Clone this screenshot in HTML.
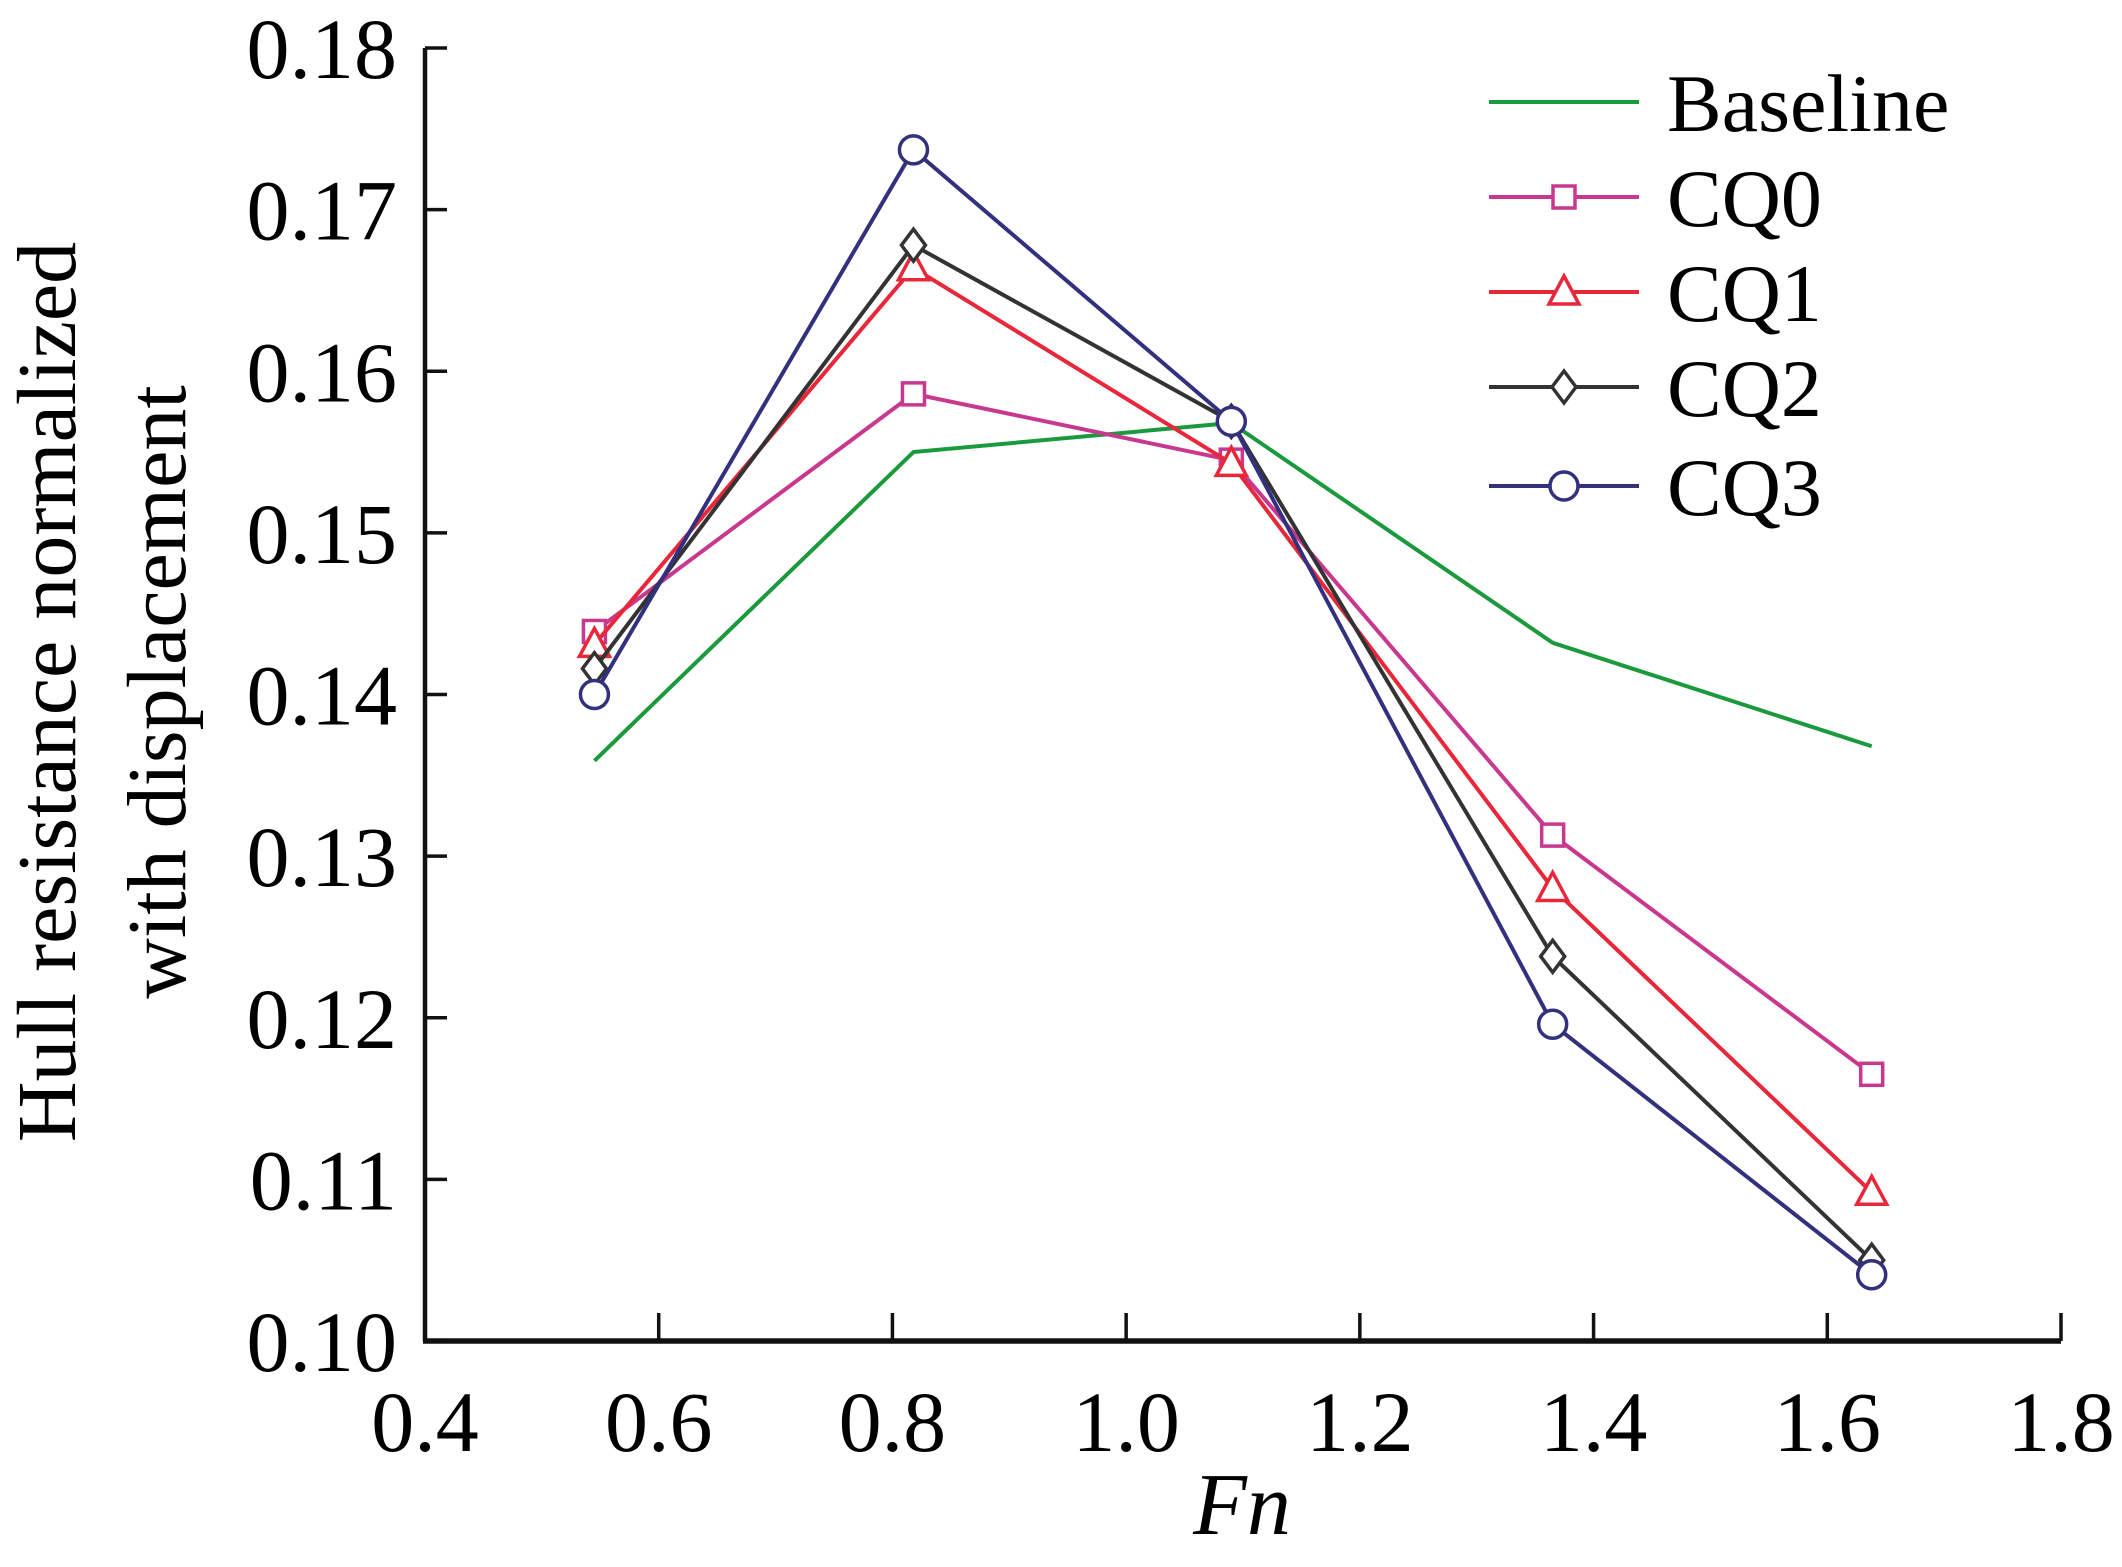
<!DOCTYPE html>
<html><head><meta charset="utf-8"><style>
html,body{margin:0;padding:0;background:#fff;}
svg{display:block;font-family:"Liberation Serif",serif;}
</style></head><body>
<svg id="chart" width="2122" height="1567" viewBox="0 0 2122 1567" xmlns="http://www.w3.org/2000/svg">
<g id="axes"></g>
<g id="series"></g>
<g id="legend"></g>
<text x="1242" y="1534" font-size="88" font-style="italic" text-anchor="middle">Fn</text>
<g transform="translate(0,692) rotate(-90)">
<text x="0" y="75" font-size="84" text-anchor="middle">Hull resistance normalized</text>
<text x="0" y="185" font-size="84" text-anchor="middle">with displacement</text>
</g>
</svg>
<script>
const xValues=[0.545,0.818,1.09,1.365,1.638];
const seriesNames=["Baseline","CQ0","CQ1","CQ2","CQ3"];
const baseline=[0.1359,0.1550,0.1568,0.1432,0.1368];
const cq0=[0.1439,0.1586,0.1545,0.1313,0.1165];
const cq1=[0.1431,0.1664,0.1543,0.1280,0.1092];
const cq2=[0.1416,0.1678,0.1569,0.1238,0.1050];
const cq3=[0.1400,0.1737,0.1569,0.1196,0.1041];
const xTicks=["0.4","0.6","0.8","1.0","1.2","1.4","1.6","1.8"];
const yTicks=["0.10","0.11","0.12","0.13","0.14","0.15","0.16","0.17","0.18"];

const NS="http://www.w3.org/2000/svg";
const X0=425,X1=2061,Y0=1341,Y1=48;
const xs=v=>X0+(v-0.4)/1.4*(X1-X0);
const ys=v=>Y0-(v-0.10)/0.08*(Y0-Y1);
function mk(tag,attrs,parent){const e=document.createElementNS(NS,tag);for(const k in attrs)e.setAttribute(k,attrs[k]);parent.appendChild(e);return e;}
const axes=document.getElementById('axes');
let l=mk('line',{x1:X0,y1:Y1,x2:X0,y2:Y0,stroke:'#111','stroke-width':4.5},axes);


l=mk('line',{x1:X0-2,y1:Y0,x2:X1,y2:Y0,stroke:'#111','stroke-width':5.5},axes);


xTicks.forEach(t=>{const x=xs(parseFloat(t));
 const tk=mk('line',{x1:x,y1:Y0,x2:x,y2:Y0-28,stroke:'#111','stroke-width':3.5},axes);
 
 
 const tx=mk('text',{x:x,y:Y0+110,'font-size':86,'text-anchor':'middle'},axes);tx.textContent=t;
 
 
});
yTicks.forEach(t=>{const y=ys(parseFloat(t));
 const tk=mk('line',{x1:X0,y1:y,x2:X0+22,y2:y,stroke:'#111','stroke-width':3.5},axes);
 
 
 const tx=mk('text',{x:X0-28,y:y+30,'font-size':86,'text-anchor':'end'},axes);tx.textContent=t;
 
 
});
const colors=["#1a9a3c","#c8388e","#e8283a","#333333","#33307e"];
const markers=[null,"square","triangle","diamond","circle"];
const data=[baseline,cq0,cq1,cq2,cq3];
function marker(type,x,y,c,g){
 let e;
 if(type==="square")e=mk('rect',{x:x-11,y:y-11,width:22,height:22,fill:'#fff',stroke:c,'stroke-width':3.5},g);
 else if(type==="triangle")e=mk('polygon',{points:`${x},${y-16} ${x+15},${y+12} ${x-15},${y+12}`,fill:'#fff',stroke:c,'stroke-width':3.5},g);
 else if(type==="diamond")e=mk('polygon',{points:`${x},${y-16} ${x+12},${y} ${x},${y+16} ${x-12},${y}`,fill:'#fff',stroke:c,'stroke-width':3.5},g);
 else e=mk('circle',{cx:x,cy:y,r:14,fill:'#fff',stroke:c,'stroke-width':3.5},g);
 return e;
}
const sg=document.getElementById('series');
data.forEach((arr,i)=>{
 const g=mk('g',{},sg);
 
 
 const pl=mk('polyline',{points:arr.map((v,j)=>xs(xValues[j])+','+ys(v)).join(' '),fill:'none',stroke:colors[i],'stroke-width':4},g);
 
 
 if(markers[i])arr.forEach((v,j)=>{const m=marker(markers[i],xs(xValues[j]),ys(v),colors[i],g);
  
  });
});
const lg=document.getElementById('legend');
const ly=[102,197,292,387,486];
seriesNames.forEach((n,i)=>{
 const g=mk('g',{},lg);
 
 
 mk('line',{x1:1489,y1:ly[i],x2:1639,y2:ly[i],stroke:colors[i],'stroke-width':4},g);
 if(markers[i])marker(markers[i],1564,ly[i],colors[i],g);
 const t=mk('text',{x:1667,y:ly[i]+29,'font-size':82},g);t.textContent=n;
});
</script>
</body></html>
